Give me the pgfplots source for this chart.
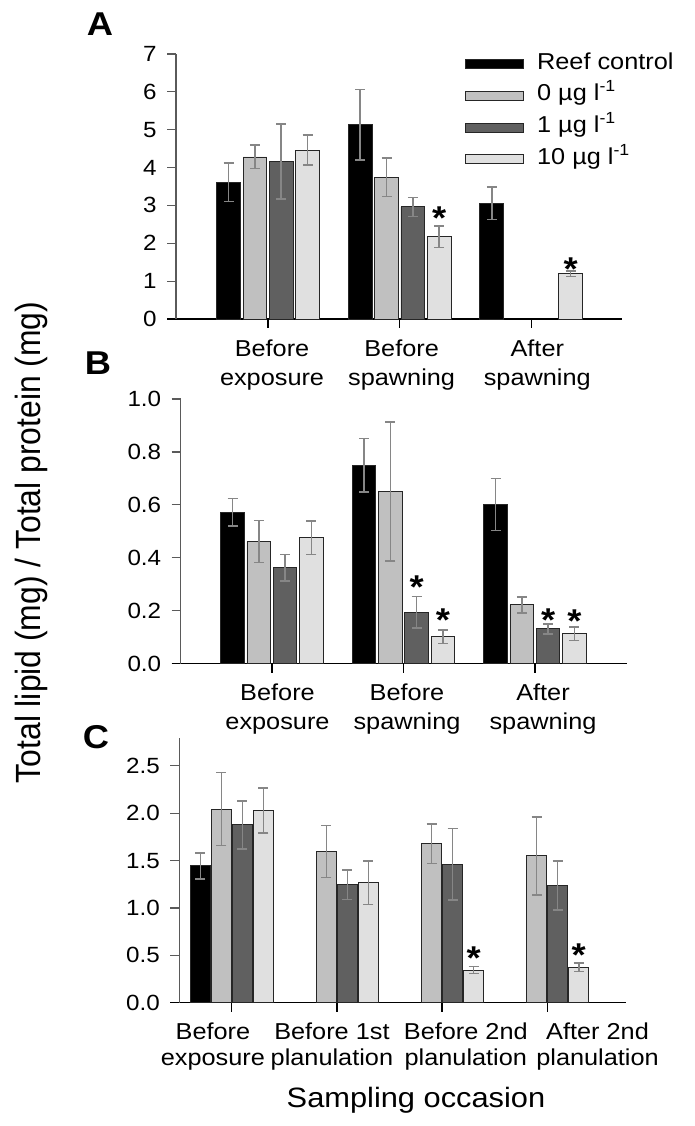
\documentclass[border=0pt]{standalone}
\usepackage{fontspec}
\setmainfont{Liberation Sans}[FakeStretch=1.1]
\newfontfamily\ylabfont{Liberation Sans}[FakeStretch=0.91]
\usepackage{pgfplots}
\pgfplotsset{compat=1.18}

\definecolor{cZero}{HTML}{C0C0C0}
\definecolor{cOne}{HTML}{606060}
\definecolor{cTen}{HTML}{E0E0E0}
\definecolor{cErr}{HTML}{868686}
\definecolor{cAxis}{HTML}{5A5A5A}

\pgfplotsset{
  panel/.style={
    scale only axis, clip=false,
    axis x line*=bottom, axis y line*=left,
    ymin=0, tick align=outside, major tick length=9pt,
    x axis line style={black, line width=1.3pt, shorten <=-9pt},
    y axis line style={cAxis, line width=1.3pt},
    xtick style={black, line width=1.2pt},
    ytick style={cAxis, line width=1.2pt},
    xticklabels={,,,,},
    tick label style={font=\fontsize{22}{26}\selectfont},
    /pgf/number format/assume math mode=true,
    yticklabel style={xshift=-7pt},
    extra x tick style={major tick length=0pt,
      xticklabel style={align=center, anchor=north, yshift=-17pt}},
  },
  bars/.style={ybar, bar width=#1, draw=black!85, line width=0.9pt,
    legend image code/.code={\draw[##1, line width=0.9pt] (0pt,-4.5pt) rectangle (58pt,4.5pt);}},
  errs/.style={forget plot, draw=none, mark=none,
    error bars/.cd, y dir=both, y explicit,
    error bar style={draw=cErr, line width=1.6pt},
    error mark options={draw=cErr, line width=1.6pt, mark size=5pt, rotate=90}},
  stars/.style={forget plot, draw=none, mark=none, nodes near coords={*},
    every node near coord/.style={anchor=center, inner sep=0pt, yshift=-7.5pt,
      font=\fontsize{33}{33}\selectfont\bfseries}},
}

\begin{document}
\begin{tikzpicture}
\path[use as bounding box] (0,0) rectangle (695pt,1126pt);

% ---- A ----
\begin{axis}[panel, at={(176pt,807pt)}, anchor=south west,
  width=446pt, height=265pt,
  xmin=-0.70, xmax=2.69, ymax=7, ytick={0,1,...,7}, xtick={0,1,2},
  extra x ticks={0.03,1.015,2.046},
  extra x tick labels={{Before\\exposure},{Before\\spawning},{After\\spawning}},
  extra x tick style={xticklabel style={font=\fontsize{23}{29}\selectfont}},
  legend style={at={(0.648,1.0075)}, anchor=north west, draw=none, fill=none,
    inner sep=0pt, row sep=7.7pt, column sep=13pt,
    font=\fontsize{23}{23}\selectfont,
    nodes={inner sep=0pt, text height=17pt, text depth=7pt}},
  legend cell align=left]
\addplot[bars=0.18, fill=black, bar shift=-0.3] coordinates {(0,3.61) (1,5.13) (2,3.06)};
\addplot[bars=0.18, fill=cZero, bar shift=-0.1] coordinates {(0,4.28) (1,3.75)};
\addplot[bars=0.18, fill=cOne, bar shift=0.1] coordinates {(0,4.16) (1,2.96)};
\addplot[bars=0.18, fill=cTen, bar shift=0.3] coordinates {(0,4.46) (1,2.17) (2,1.19)};
\addplot[errs] coordinates {
  (-0.3,3.61) +- (0,0.51) (0.7,5.13) +- (0,0.93) (1.7,3.06) +- (0,0.43)
  (-0.1,4.28) +- (0,0.31) (0.9,3.75) +- (0,0.51)
  (0.1,4.16) +- (0,0.99) (1.1,2.96) +- (0,0.25)
  (0.3,4.46) +- (0,0.40) (1.3,2.17) +- (0,0.28) (2.3,1.19) +- (0,0.07)};
\addplot[stars] coordinates {(1.3,2.86) (2.3,1.51)};
\legend{Reef control, 0 µg l\textsuperscript{-1}, 1 µg l\textsuperscript{-1}, 10 µg l\textsuperscript{-1}}
\end{axis}

% ---- B ----
\begin{axis}[panel, at={(180.7pt,462.3pt)}, anchor=south west,
  width=446.3pt, height=264.7pt,
  xmin=-0.694, xmax=2.70, ymax=1, ytick={0,0.2,...,1.0}, xtick={0,1,2},
  yticklabel style={/pgf/number format/.cd, fixed, fixed zerofill, precision=1},
  extra x ticks={0.042,1.027,2.061},
  extra x tick labels={{Before\\exposure},{Before\\spawning},{After\\spawning}},
  extra x tick style={xticklabel style={font=\fontsize{23}{29}\selectfont}}]
\addplot[bars=0.18, fill=black, bar shift=-0.3] coordinates {(0,0.572) (1,0.750) (2,0.601)};
\addplot[bars=0.18, fill=cZero, bar shift=-0.1] coordinates {(0,0.462) (1,0.651) (2,0.222)};
\addplot[bars=0.18, fill=cOne, bar shift=0.1] coordinates {(0,0.363) (1,0.194) (2,0.132)};
\addplot[bars=0.18, fill=cTen, bar shift=0.3] coordinates {(0,0.476) (1,0.102) (2,0.113)};
\addplot[errs] coordinates {
  (-0.3,0.572) +- (0,0.052) (0.7,0.750) +- (0,0.101) (1.7,0.601) +- (0,0.098)
  (-0.1,0.462) +- (0,0.079) (0.9,0.651) +- (0,0.263) (1.9,0.222) +- (0,0.031)
  (0.1,0.363) +- (0,0.050) (1.1,0.194) +- (0,0.060) (2.1,0.132) +- (0,0.019)
  (0.3,0.476) +- (0,0.064) (1.3,0.102) +- (0,0.026) (2.3,0.113) +- (0,0.025)};
\addplot[stars] coordinates {(1.1,0.319) (1.3,0.194) (2.1,0.194) (2.3,0.188)};
\end{axis}

% ---- C ----
\begin{axis}[panel, at={(179.3pt,123.3pt)}, anchor=south west,
  width=446.7pt, height=264.4pt,
  xmin=-0.5, xmax=3.75, ymax=2.79, ytick={0,0.5,...,2.5}, xtick={0,1,2,3},
  yticklabel style={/pgf/number format/.cd, fixed, fixed zerofill, precision=1},
  extra x ticks={-0.18,0.952,2.226,3.479},
  extra x tick labels={{Before\\exposure},{Before 1st\\planulation},{Before 2nd\\planulation},{After 2nd\\planulation}},
  extra x tick style={xticklabel style={font=\fontsize{23}{25.7}\selectfont}}]
\addplot[bars=0.186, fill=black, bar shift=-0.3] coordinates {(0,1.443)};
\addplot[bars=0.186, fill=cZero, bar shift=-0.1] coordinates {(0,2.042) (1,1.595) (2,1.679) (3,1.549)};
\addplot[bars=0.186, fill=cOne, bar shift=0.1] coordinates {(0,1.876) (1,1.246) (2,1.461) (3,1.236)};
\addplot[bars=0.186, fill=cTen, bar shift=0.3] coordinates {(0,2.028) (1,1.264) (2,0.345) (3,0.374)};
\addplot[errs] coordinates {
  (-0.3,1.443) +- (0,0.137)
  (-0.1,2.042) +- (0,0.385) (0.9,1.595) +- (0,0.276) (1.9,1.679) +- (0,0.209) (2.9,1.549) +- (0,0.413)
  (0.1,1.876) +- (0,0.252) (1.1,1.246) +- (0,0.155) (2.1,1.461) +- (0,0.378) (3.1,1.236) +- (0,0.260)
  (0.3,2.028) +- (0,0.239) (1.3,1.264) +- (0,0.229) (2.3,0.345) +- (0,0.035) (3.3,0.374) +- (0,0.044)};
\addplot[stars] coordinates {(2.3,0.549) (3.3,0.581)};
\end{axis}

\node[font=\fontsize{33}{33}\selectfont\bfseries] at (100pt,1102pt) {A};
\node[font=\fontsize{33}{33}\selectfont\bfseries] at (98pt,763pt) {B};
\node[font=\fontsize{33}{33}\selectfont\bfseries] at (96pt,388.5pt) {C};
\node[rotate=90, font=\ylabfont\fontsize{35}{35}\selectfont] at (31pt,583.5pt)
  {Total lipid (mg) / Total protein (mg)};
\node[font=\fontsize{28}{28}\selectfont] at (416pt,26pt) {Sampling occasion};
\end{tikzpicture}
\end{document}
